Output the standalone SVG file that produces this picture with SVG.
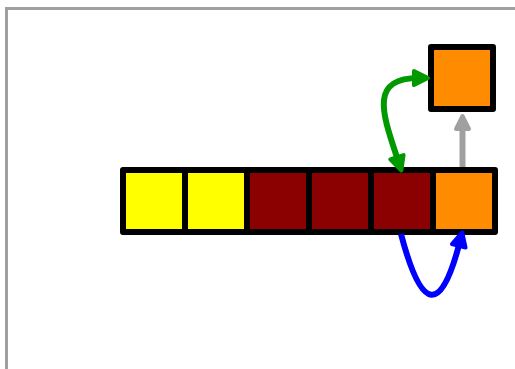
<svg xmlns="http://www.w3.org/2000/svg" width="515" height="369" viewBox="0 0 515 369">
<style>
.cell{stroke:#000;stroke-width:6;stroke-linejoin:round}
.y{fill:#ffff00}.r{fill:#8b0000}.o{fill:#ff8c00}
.edge{fill:none;stroke-width:6}
.head{stroke-width:4;stroke-linejoin:round}
</style>
<defs>
<marker id="mg" markerUnits="userSpaceOnUse" viewBox="-3 -2 21 20" markerWidth="21" markerHeight="20" refX="5" refY="8" orient="auto-start-reverse"><path class="head" d="M0,1 L14,8 L0,15 Z" fill="#009900" stroke="#009900"/></marker>
<marker id="mb" markerUnits="userSpaceOnUse" viewBox="-3 -2 21 20" markerWidth="21" markerHeight="20" refX="5" refY="8" orient="auto"><path class="head" d="M0,1 L14,8 L0,15 Z" fill="#0000ff" stroke="#0000ff"/></marker>
<marker id="ma" markerUnits="userSpaceOnUse" viewBox="-3 -2 21 20" markerWidth="21" markerHeight="20" refX="5" refY="8" orient="auto"><path class="head" d="M0,1.5 L13,8 L0,14.5 Z" fill="#a0a0a0" stroke="#a0a0a0"/></marker>
</defs>
<rect x="6.5" y="8.5" width="600" height="500" fill="none" stroke="#a0a0a0" stroke-width="3"/>
<g id="connectors-back">
<path class="edge" d="M462.5,168 L462.5,124" stroke="#a0a0a0" stroke-width="6.5" marker-end="url(#ma)"/>
</g>
<g id="row">
<g id="n0"><rect class="cell y" x="123" y="170" width="62" height="62"/></g>
<g id="n1"><rect class="cell y" x="185" y="170" width="62" height="62"/></g>
<g id="n2"><rect class="cell r" x="247" y="170" width="62" height="62"/></g>
<g id="n3"><rect class="cell r" x="309" y="170" width="62" height="62"/></g>
<g id="n4"><rect class="cell r" x="371" y="170" width="62" height="62"/></g>
<g id="n5"><rect class="cell o" x="433" y="170" width="62" height="62"/></g>
</g>
<g id="top"><rect class="cell o" x="431" y="47" width="62" height="62"/></g>
<g id="connectors">
<path class="edge" d="M398.5,162 C383,115 368,78 419,78" stroke="#009900" marker-start="url(#mg)" marker-end="url(#mg)"/>
<path class="edge" d="M401,234 Q432,352 460,241" stroke="#0000ff" marker-end="url(#mb)"/>
</g>
</svg>
